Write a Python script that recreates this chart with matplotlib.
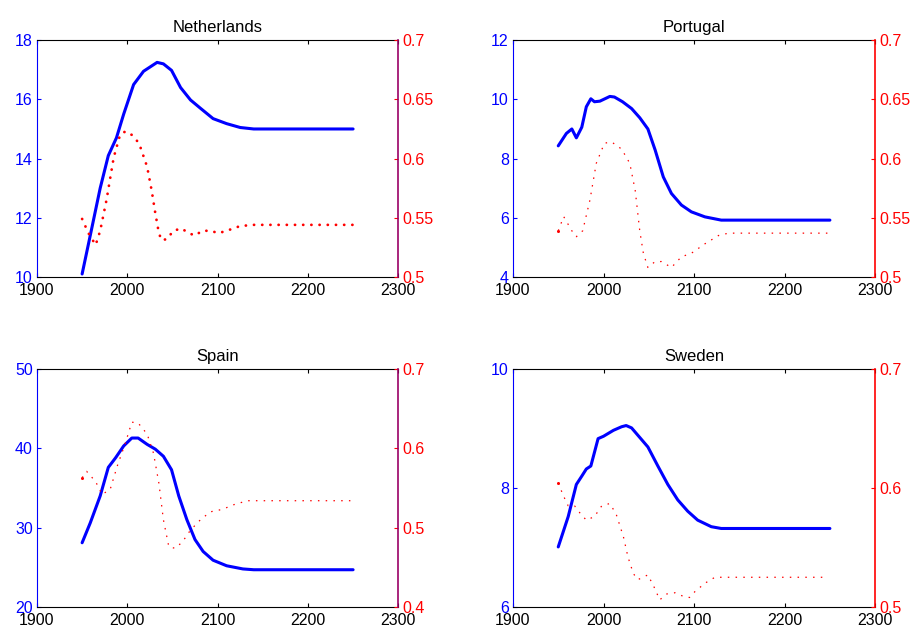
import numpy as np
import matplotlib
matplotlib.use("Agg")
import matplotlib.pyplot as plt

plt.rcParams['font.family'] = ['Liberation Sans', 'DejaVu Sans']

# %% data (year, value)
# Netherlands
nl_blue_yr = [1950, 1959, 1970, 1979, 1988, 1996, 2007, 2018, 2033, 2040, 2049, 2059, 2070,
              2081, 2095, 2110, 2125, 2140, 2250]
nl_blue = [10.1, 11.4, 13.0, 14.1, 14.7, 15.5, 16.5, 16.95, 17.25, 17.2, 16.98, 16.4, 15.98,
           15.7, 15.35, 15.18, 15.05, 15.0, 15.0]
nl_red_yr = [1950, 1957, 1965, 1970, 1977, 1985, 1992, 1998, 2005, 2013, 2022, 2027, 2031, 2035,
             2038, 2044, 2051, 2060, 2068, 2075, 2083, 2092, 2101, 2110, 2125, 2140, 2250]
nl_red = [0.549, 0.537, 0.527, 0.539, 0.565, 0.601, 0.620, 0.623, 0.620, 0.613, 0.593, 0.573,
          0.554, 0.537, 0.531, 0.532, 0.539, 0.541, 0.537, 0.535, 0.539, 0.539, 0.537, 0.539,
          0.543, 0.544, 0.544]

# Portugal
pt_blue_yr = [1950, 1959, 1965, 1970, 1976, 1981, 1986, 1990, 1996, 2007, 2012, 2021, 2031, 2040,
              2049, 2057, 2066, 2075, 2086, 2097, 2112, 2130, 2250]
pt_blue = [8.43, 8.85, 9.0, 8.7, 9.06, 9.75, 10.02, 9.92, 9.94, 10.1, 10.08, 9.92, 9.69, 9.38,
           9.0, 8.29, 7.38, 6.82, 6.43, 6.2, 6.03, 5.92, 5.92]
pt_red_yr = [1950, 1956, 1965, 1970, 1977, 1985, 1992, 2001, 2009, 2020, 2029, 2035, 2040, 2044,
             2049, 2057, 2064, 2075, 2086, 2097, 2112, 2127, 2138, 2250]
pt_red = [0.539, 0.551, 0.539, 0.534, 0.539, 0.565, 0.596, 0.613, 0.614, 0.608, 0.596, 0.573,
          0.539, 0.520, 0.508, 0.513, 0.513, 0.508, 0.517, 0.520, 0.528, 0.535, 0.537, 0.537]

# Spain
es_blue_yr = [1950, 1959, 1970, 1979, 1987, 1996, 2005, 2012, 2022, 2031, 2040, 2049, 2057, 2066,
              2075, 2084, 2095, 2110, 2128, 2140, 2250]
es_blue = [28.1, 30.6, 34.0, 37.6, 38.8, 40.3, 41.3, 41.3, 40.5, 39.9, 39.0, 37.3, 34.0, 31.0,
           28.5, 27.0, 25.9, 25.2, 24.8, 24.7, 24.7]
es_red_yr = [1950, 1955, 1965, 1972, 1981, 1989, 1998, 2005, 2012, 2022, 2029, 2035, 2040, 2046,
             2053, 2061, 2070, 2081, 2092, 2105, 2118, 2133, 2247]
es_red = [0.563, 0.571, 0.558, 0.542, 0.548, 0.578, 0.607, 0.633, 0.632, 0.618, 0.594, 0.556,
          0.510, 0.476, 0.474, 0.482, 0.497, 0.510, 0.520, 0.523, 0.529, 0.534, 0.534]

# Sweden
se_blue_yr = [1950, 1961, 1970, 1976, 1981, 1986, 1994, 2000, 2011, 2020, 2025, 2031, 2040, 2049,
              2060, 2071, 2082, 2093, 2104, 2119, 2130, 2250]
se_blue = [7.01, 7.52, 8.06, 8.2, 8.32, 8.37, 8.83, 8.87, 8.97, 9.03, 9.05, 9.01, 8.85, 8.69,
           8.37, 8.06, 7.80, 7.61, 7.46, 7.35, 7.32, 7.32]
se_red_yr = [1950, 1956, 1961, 1968, 1974, 1981, 1990, 1998, 2007, 2014, 2022, 2027, 2033, 2038,
             2049, 2057, 2062, 2070, 2079, 2088, 2095, 2101, 2112, 2123, 2247]
se_red = [0.604, 0.593, 0.585, 0.585, 0.579, 0.573, 0.576, 0.585, 0.587, 0.578, 0.559, 0.542,
          0.528, 0.523, 0.527, 0.515, 0.506, 0.511, 0.512, 0.509, 0.508, 0.513, 0.520, 0.525, 0.525]

panels = [
    ("Netherlands", nl_blue_yr, nl_blue, nl_red_yr, nl_red, (10, 18), [10, 12, 14, 16, 18],
     (0.5, 0.7), [0.5, 0.55, 0.6, 0.65, 0.7], "#990066", True),
    ("Portugal", pt_blue_yr, pt_blue, pt_red_yr, pt_red, (4, 12), [4, 6, 8, 10, 12],
     (0.5, 0.7), [0.5, 0.55, 0.6, 0.65, 0.7], "#ff0000", False),
    ("Spain", es_blue_yr, es_blue, es_red_yr, es_red, (20, 50), [20, 30, 40, 50],
     (0.4, 0.7), [0.4, 0.5, 0.6, 0.7], "#990066", False),
    ("Sweden", se_blue_yr, se_blue, se_red_yr, se_red, (6, 10), [6, 8, 10],
     (0.5, 0.7), [0.5, 0.6, 0.7], "#ff0000", False),
]

positions = [
    [0.0403, 0.559, 0.394, 0.377],
    [0.5594, 0.559, 0.395, 0.377],
    [0.0403, 0.0334, 0.394, 0.379],
    [0.5594, 0.0334, 0.395, 0.379],
]

fig = plt.figure(figsize=(9.17, 6.28), dpi=100)

for pos, (name, byr, bval, ryr, rval, ylim, yticks, rlim, rticks, rspine, thick) in zip(positions, panels):
    ax = fig.add_axes(pos)
    ax2 = ax.twinx()

    ax.plot(byr, bval, color="#0000ff", lw=2.2, solid_capstyle="round")
    if thick:
        ax2.plot(ryr, rval, color="#ff0000", lw=2.0, linestyle=(0, (0.05, 2.9)),
                 dash_capstyle="round")
    else:
        ax2.plot(ryr, rval, color="#ff0000", lw=0.9, linestyle=(0, (1.2, 5.0)))
        ax2.plot(ryr[0], rval[0], 'o', color="#ff0000", ms=2.2, mew=0)

    ax.set_xlim(1900, 2300)
    ax.set_xticks([1900, 2000, 2100, 2200, 2300])
    ax.set_ylim(*ylim)
    ax.set_yticks(yticks)
    ax2.set_ylim(*rlim)
    ax2.set_yticks(rticks)
    ax2.set_yticklabels([f"{t:g}" for t in rticks])

    ax.set_title(name, fontsize=12, pad=6)

    ax.tick_params(axis='x', direction='in', length=3, top=True, labelsize=11.5,
                   labelcolor='black', pad=4.5)
    ax.tick_params(axis='y', direction='in', length=3, colors="#0000ff", labelsize=11.5, pad=3)
    ax2.tick_params(axis='y', direction='in', length=3, colors="#ff0000", labelsize=11.5, pad=3)

    ax.spines['right'].set_visible(False)
    ax.spines['left'].set_color("#0000ff")
    ax2.spines['left'].set_visible(False)
    ax2.spines['top'].set_visible(False)
    ax2.spines['bottom'].set_visible(False)
    ax2.spines['right'].set_color(rspine)
    ax2.spines['right'].set_linewidth(1.2)

fig.savefig("out.png", dpi=100)
